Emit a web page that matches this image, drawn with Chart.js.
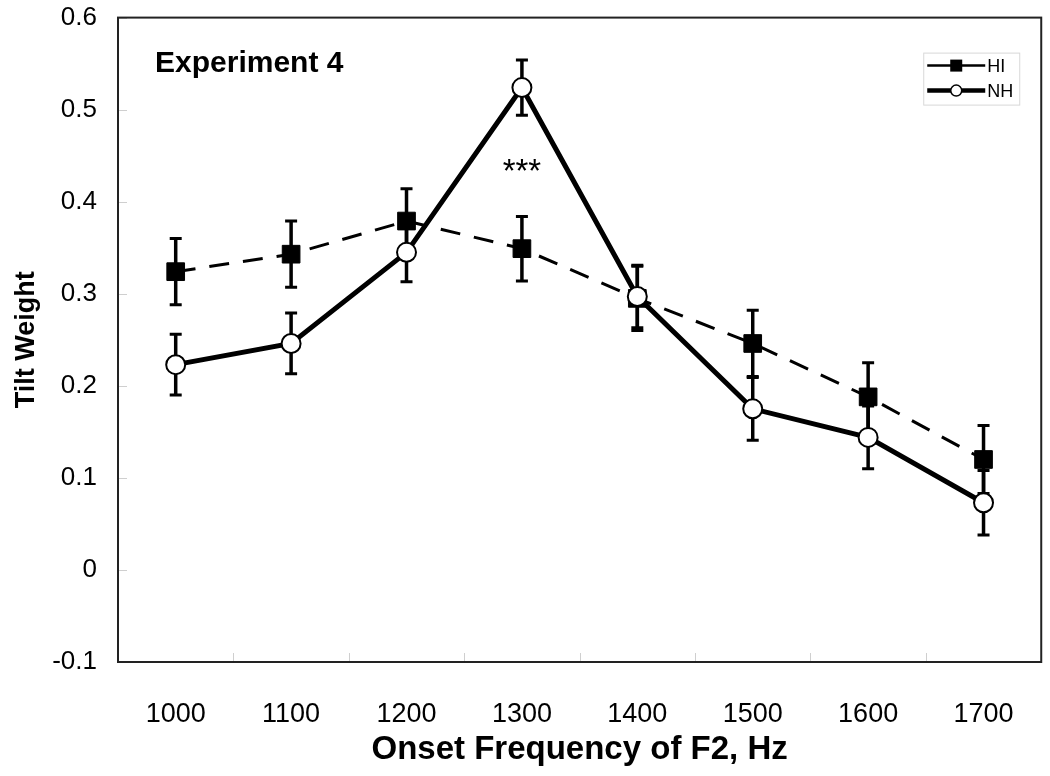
<!DOCTYPE html>
<html>
<head>
<meta charset="utf-8">
<script src="https://cdn.jsdelivr.net/npm/chart.js@4.4.0/dist/chart.umd.min.js"></script>
<style>
  body { margin: 0; background: #fff; }
  #wrap { width: 1050px; height: 776px; }
</style>
</head>
<body>
<div id="wrap"><canvas id="myChart" width="1050" height="776"></canvas></div>
<script>
const categories = ['1000', '1100', '1200', '1300', '1400', '1500', '1600', '1700'];

// HI = hearing impaired, NH = normal hearing
const hiValues = [0.324, 0.343, 0.379, 0.349, 0.295, 0.246, 0.188, 0.120];
const hiErrors = [0.036, 0.036, 0.035, 0.035, 0.035, 0.036, 0.037, 0.037];
const nhValues = [0.223, 0.246, 0.345, 0.524, 0.297, 0.175, 0.144, 0.073];
const nhErrors = [0.033, 0.033, 0.032, 0.030, 0.034, 0.034, 0.034, 0.035];

const yMin = -0.1;
const yMax = 0.6;
const yStep = 0.1;

const panelLabel = 'Experiment 4';
const starNote = { category: '1300', value: 0.44, text: '***' };

const FONT = "'Liberation Sans', Arial, sans-serif";

const errors = [hiErrors, nhErrors];

const extras = {
    id: 'extras',
    beforeDatasetsDraw(chart) {
        const ctx = chart.ctx;
        const y = chart.scales.y;
        const x = chart.scales.x;
        const area = chart.chartArea;
        ctx.save();

        // small light ticks inside the frame
        ctx.strokeStyle = '#cfcfcf';
        ctx.lineWidth = 1;
        y.ticks.forEach(function (t) {
            const py = Math.round(y.getPixelForValue(t.value)) + 0.5;
            ctx.beginPath();
            ctx.moveTo(area.left, py);
            ctx.lineTo(area.left + 9, py);
            ctx.stroke();
        });
        for (let i = 0; i < categories.length - 1; i++) {
            const px = Math.round(x.getPixelForValue(i + 0.5)) + 0.5;
            ctx.beginPath();
            ctx.moveTo(px, area.bottom);
            ctx.lineTo(px, area.bottom - 9);
            ctx.stroke();
        }

        // error bars
        ctx.strokeStyle = '#000';
        chart.data.datasets.forEach(function (ds, di) {
            const meta = chart.getDatasetMeta(di);
            meta.data.forEach(function (pt, j) {
                const v = ds.data[j];
                const e = errors[di][j];
                const top = y.getPixelForValue(v + e);
                const bot = y.getPixelForValue(v - e);
                ctx.lineWidth = 3.5;
                ctx.beginPath();
                ctx.moveTo(pt.x, top);
                ctx.lineTo(pt.x, bot);
                ctx.stroke();
                ctx.lineWidth = 3;
                ctx.beginPath();
                ctx.moveTo(pt.x - 6, top);
                ctx.lineTo(pt.x + 6, top);
                ctx.moveTo(pt.x - 6, bot);
                ctx.lineTo(pt.x + 6, bot);
                ctx.stroke();
            });
        });
        ctx.restore();
    },
    afterDraw(chart) {
        const ctx = chart.ctx;
        const area = chart.chartArea;
        const x = chart.scales.x;
        const y = chart.scales.y;
        ctx.save();

        // frame
        ctx.strokeStyle = '#222';
        ctx.lineWidth = 2;
        ctx.strokeRect(area.left, area.top, area.right - area.left, area.bottom - area.top);

        // panel label
        ctx.fillStyle = '#000';
        ctx.font = 'bold 30px ' + FONT;
        ctx.textAlign = 'left';
        ctx.textBaseline = 'alphabetic';
        ctx.fillText(panelLabel, area.left + 37, area.top + 54);

        // significance stars
        ctx.font = '33px ' + FONT;
        ctx.textAlign = 'center';
        ctx.textBaseline = 'middle';
        ctx.fillText(starNote.text, x.getPixelForValue(categories.indexOf(starNote.category)), y.getPixelForValue(starNote.value) + 8);

        // legend
        const bx = area.right - 118, by = area.top + 35;
        ctx.strokeStyle = '#d8d8d8';
        ctx.lineWidth = 1;
        ctx.strokeRect(bx + 0.5, by + 0.5, 96, 52);
        const rows = [
            { label: 'HI', y: by + 13, width: 2.5 },
            { label: 'NH', y: by + 38, width: 4.5 }
        ];
        rows.forEach(function (r, i) {
            ctx.strokeStyle = '#000';
            ctx.lineWidth = r.width;
            ctx.beginPath();
            ctx.moveTo(bx + 4, r.y);
            ctx.lineTo(bx + 62, r.y);
            ctx.stroke();
            if (i === 0) {
                ctx.fillStyle = '#000';
                ctx.fillRect(bx + 27, r.y - 6, 12, 12);
            } else {
                ctx.fillStyle = '#fff';
                ctx.lineWidth = 1.5;
                ctx.beginPath();
                ctx.arc(bx + 33, r.y, 5.5, 0, Math.PI * 2);
                ctx.fill();
                ctx.stroke();
            }
            ctx.fillStyle = '#000';
            ctx.font = '18px ' + FONT;
            ctx.textAlign = 'left';
            ctx.textBaseline = 'middle';
            ctx.fillText(r.label, bx + 64, r.y + 1);
        });
        ctx.restore();
    }
};

const data = {
    labels: categories,
    datasets: [{
        label: 'HI',
        data: hiValues,
        order: 2,
        borderColor: '#000',
        borderWidth: 3,
        borderDash: [20, 14],
        pointStyle: 'rect',
        pointRadius: 12.5,
        pointHoverRadius: 12.5,
        pointBackgroundColor: '#000',
        pointBorderColor: '#000',
        pointBorderWidth: 1,
        tension: 0
    }, {
        label: 'NH',
        data: nhValues,
        order: 1,
        borderColor: '#000',
        borderWidth: 5,
        pointStyle: 'circle',
        pointRadius: 9.5,
        pointHoverRadius: 9.5,
        pointBackgroundColor: '#fff',
        pointBorderColor: '#000',
        pointBorderWidth: 2,
        tension: 0
    }]
};

const config = {
    type: 'line',
    data: data,
    plugins: [extras],
    options: {
        responsive: false,
        animation: false,
        layout: { autoPadding: false, padding: { top: 2, right: 7, left: 0, bottom: 0 } },
        plugins: {
            legend: { display: false },
            tooltip: { enabled: false }
        },
        scales: {
            x: {
                offset: true,
                grid: { display: false, drawTicks: false },
                border: { display: false },
                ticks: { color: '#000', font: { family: FONT, size: 27 }, padding: 36, maxRotation: 0 },
                title: { display: true, text: 'Onset Frequency of F2, Hz', color: '#000',
                         font: { family: FONT, size: 33, weight: 'bold' }, padding: { top: 0, bottom: 6 } },
                afterFit: function (s) { s.height = 114; }
            },
            y: {
                min: yMin,
                max: yMax,
                // invisible tick marks only push the labels away from the axis
                grid: { display: true, drawOnChartArea: false, drawTicks: true, tickLength: 19,
                        color: 'rgba(0,0,0,0)', tickColor: 'rgba(0,0,0,0)' },
                border: { display: false },
                ticks: {
                    stepSize: yStep,
                    color: '#000',
                    font: { family: FONT, size: 26 },
                    padding: 2,
                    callback: function (v) { return String(Math.round(v * 10) / 10); }
                },
                title: { display: true, text: 'Tilt Weight', color: '#000',
                         font: { family: FONT, size: 27, weight: 'bold' }, padding: { top: 10, bottom: 0 } },
                afterFit: function (s) { s.width = 118; }
            }
        }
    }
};

const myChart = new Chart(document.getElementById('myChart'), config);
</script>
</body>
</html>
